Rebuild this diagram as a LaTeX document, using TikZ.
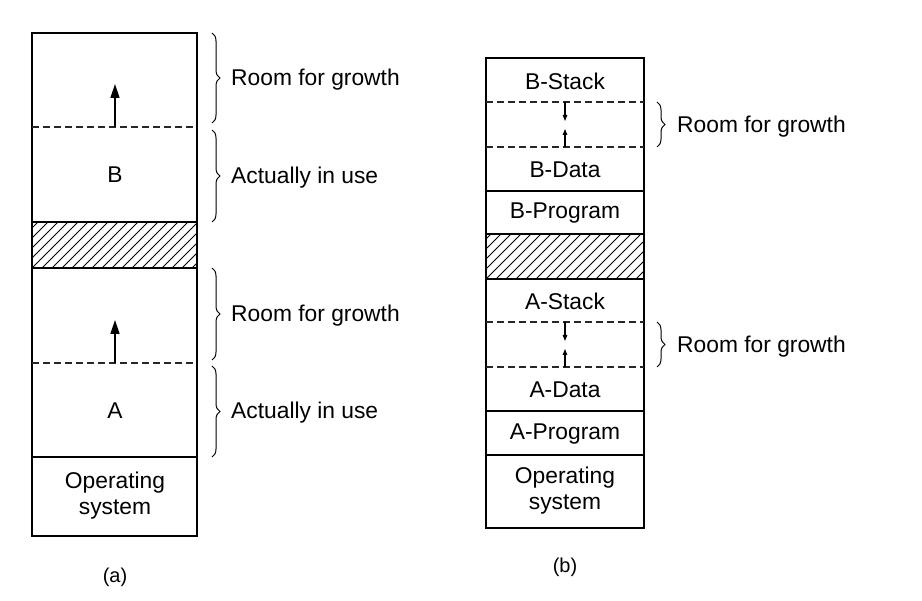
\documentclass[tikz,border=0pt]{standalone}
\usepackage{fontspec}
\setmainfont{Liberation Sans}
\usetikzlibrary{arrows.meta,decorations.pathreplacing}
\begin{document}
\begin{tikzpicture}[x=1pt,y=-1pt,
  box/.style={line width=1.9pt},
  dline/.style={dash pattern=on 7pt off 4pt, line width=1.1pt, draw=black!85},
  hatch/.style={line width=1pt},
  lbl/.style={font=\fontsize{22.8}{26}\selectfont, inner sep=0pt, align=center},
  captxt/.style={font=\fontsize{20}{24}\selectfont, inner sep=0pt},
  brc/.style={decorate, decoration={brace, amplitude=8pt}, line width=1pt},
  bigarr/.style={line width=1.6pt, -{Triangle[length=14pt,width=9pt]}},
  smarr/.style={line width=1.1pt, -{Triangle[length=6pt,width=4.5pt]}}
]
\useasboundingbox[fill=white] (0,0) rectangle (922,601);

% ---------------- (a) ----------------
\begin{scope}
  \clip (32,222) rectangle (197,268);
  \foreach \i in {-60,-50,...,200} \draw[hatch] (32+\i,268) -- (78+\i,222);
\end{scope}
\draw[box] (32,33) rectangle (197,536);
\draw[box] (32,222) -- (197,222);
\draw[box] (32,268) -- (197,268);
\draw[box] (32,457) -- (197,457);
\draw[dline] (32,127) -- (197,127);
\draw[dline] (32,363) -- (197,363);

\node[lbl] (aB) at (115,175) {B};
\node[lbl] (aA) at (115,411) {A};
\node[lbl] (aOS) at (115,496) {Operating\\system};

\coordinate (aup1s) at (115,127);
\coordinate (aup1e) at (115,84);
\coordinate (aup2s) at (115,363);
\coordinate (aup2e) at (115,320);
\draw[bigarr] (aup1s) -- (aup1e);
\draw[bigarr] (aup2s) -- (aup2e);

\coordinate (ab1t) at (212,33);  \coordinate (ab1b) at (212,123);
\coordinate (ab2t) at (212,130); \coordinate (ab2b) at (212,222);
\coordinate (ab3t) at (212,268); \coordinate (ab3b) at (212,360);
\coordinate (ab4t) at (212,366); \coordinate (ab4b) at (212,457);
\draw[brc] (ab1t) -- (ab1b);
\draw[brc] (ab2t) -- (ab2b);
\draw[brc] (ab3t) -- (ab3b);
\draw[brc] (ab4t) -- (ab4b);
\node[lbl, anchor=west] (ar1) at (231,80) {Room for growth};
\node[lbl, anchor=west] (au1) at (231,178) {Actually in use};
\node[lbl, anchor=west] (ar2) at (231,316) {Room for growth};
\node[lbl, anchor=west] (au2) at (231,413) {Actually in use};

\node[captxt] (capa) at (115,577) {(a)};

% ---------------- (b) ----------------
\begin{scope}
  \clip (486,234) rectangle (644,279);
  \foreach \i in {-60,-50,...,200} \draw[hatch] (486+\i,279) -- (531+\i,234);
\end{scope}
\draw[box] (486,58) rectangle (644,528);
\draw[box] (486,191) -- (644,191);
\draw[box] (486,234) -- (644,234);
\draw[box] (486,279) -- (644,279);
\draw[box] (486,411) -- (644,411);
\draw[box] (486,455) -- (644,455);
\draw[dline] (486,102) -- (644,102);
\draw[dline] (486,147) -- (644,147);
\draw[dline] (486,322) -- (644,322);
\draw[dline] (486,367) -- (644,367);

\node[lbl] (bBS) at (565,81) {B-Stack};
\node[lbl] (bBD) at (565,170) {B-Data};
\node[lbl] (bBP) at (565,213) {B-Program};
\node[lbl] (bAS) at (565,301) {A-Stack};
\node[lbl] (bAD) at (565,390) {A-Data};
\node[lbl] (bAP) at (565,434) {A-Program};
\node[lbl] (bOS) at (565,491) {Operating\\system};

\coordinate (bd1s) at (565,102); \coordinate (bd1e) at (565,121);
\coordinate (bu1s) at (565,147); \coordinate (bu1e) at (565,129);
\coordinate (bd2s) at (565,322); \coordinate (bd2e) at (565,341);
\coordinate (bu2s) at (565,367); \coordinate (bu2e) at (565,349);
\draw[smarr] (bd1s) -- (bd1e);
\draw[smarr] (bu1s) -- (bu1e);
\draw[smarr] (bd2s) -- (bd2e);
\draw[smarr] (bu2s) -- (bu2e);

\coordinate (bb1t) at (657,102); \coordinate (bb1b) at (657,147);
\coordinate (bb2t) at (657,322); \coordinate (bb2b) at (657,367);
\draw[brc] (bb1t) -- (bb1b);
\draw[brc] (bb2t) -- (bb2b);
\node[lbl, anchor=west] (br1) at (677,127) {Room for growth};
\node[lbl, anchor=west] (br2) at (677,347) {Room for growth};

\node[captxt] (capb) at (565,567) {(b)};
\end{tikzpicture}
\end{document}
